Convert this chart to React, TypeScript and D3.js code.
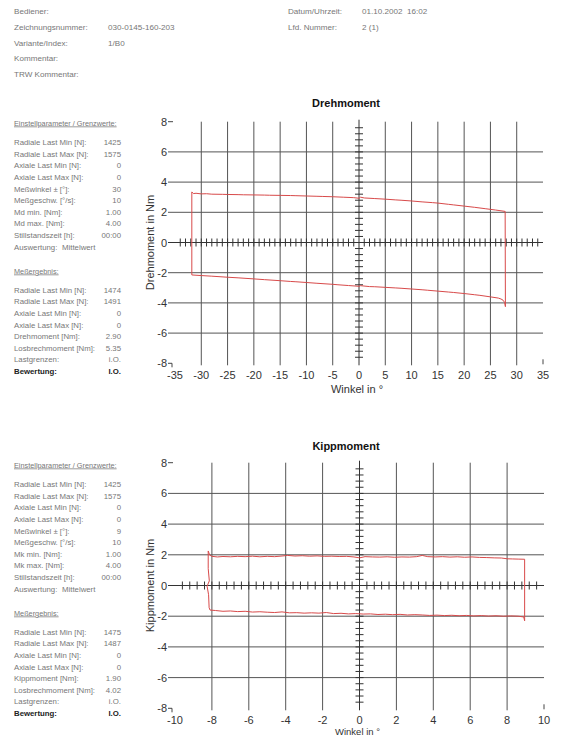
import React from "react";
import * as d3 from "d3";

// header block
const headerLeft = [
  ["Bediener:", ""],
  ["Zeichnungsnummer:", "030-0145-160-203"],
  ["Variante/Index:", "1/B0"],
  ["Kommentar:", ""],
  ["TRW Kommentar:", ""],
];
const headerRight = [
  ["Datum/Uhrzeit:", "01.10.2002  16:02"],
  ["Lfd. Nummer:", "2 (1)"],
];

// left parameter panels
const drehSettings = [
  ["Radiale Last Min [N]:", "1425"],
  ["Radiale Last Max [N]:", "1575"],
  ["Axiale Last Min [N]:", "0"],
  ["Axiale Last Max [N]:", "0"],
  ["Meßwinkel ± [°]:", "30"],
  ["Meßgeschw. [°/s]:", "10"],
  ["Md min. [Nm]:", "1.00"],
  ["Md max. [Nm]:", "4.00"],
  ["Stillstandszeit [h]:", "00:00"],
];
const drehResults = [
  ["Radiale Last Min [N]:", "1474"],
  ["Radiale Last Max [N]:", "1491"],
  ["Axiale Last Min [N]:", "0"],
  ["Axiale Last Max [N]:", "0"],
  ["Drehmoment [Nm]:", "2.90"],
  ["Losbrechmoment [Nm]:", "5.35"],
  ["Lastgrenzen:", "i.O."],
  ["Bewertung:", "I.O."],
];
const kippSettings = [
  ["Radiale Last Min [N]:", "1425"],
  ["Radiale Last Max [N]:", "1575"],
  ["Axiale Last Min [N]:", "0"],
  ["Axiale Last Max [N]:", "0"],
  ["Meßwinkel ± [°]:", "9"],
  ["Meßgeschw. [°/s]:", "10"],
  ["Mk min. [Nm]:", "1.00"],
  ["Mk max. [Nm]:", "4.00"],
  ["Stillstandszeit [h]:", "00:00"],
];
const kippResults = [
  ["Radiale Last Min [N]:", "1475"],
  ["Radiale Last Max [N]:", "1487"],
  ["Axiale Last Min [N]:", "0"],
  ["Axiale Last Max [N]:", "0"],
  ["Kippmoment [Nm]:", "1.90"],
  ["Losbrechmoment [Nm]:", "4.02"],
  ["Lastgrenzen:", "i.O."],
  ["Bewertung:", "I.O."],
];

// tick labels
const yTicks = [-8, -6, -4, -2, 0, 2, 4, 6, 8];
const drehXTicks = [-35, -30, -25, -20, -15, -10, -5, 0, 5, 10, 15, 20, 25, 30, 35];
const kippXTicks = [-10, -8, -6, -4, -2, 0, 2, 4, 6, 8, 10];

// measured curves [winkel, moment]
const drehUpper = [
  [-31.8, 3.35], [-31.5, 3.24], [-31, 3.26], [-30, 3.22], [-29, 3.23], [-28, 3.2], [-26, 3.19],
  [-25, 3.18], [-23, 3.17], [-22, 3.16], [-20, 3.15], [-18, 3.14], [-17, 3.13], [-15, 3.12],
  [-13, 3.11], [-12, 3.1], [-10, 3.08], [-8, 3.06], [-7, 3.05], [-5, 3.03], [-3, 3.0],
  [-1, 2.97], [0, 2.93], [0.3, 3.0], [1, 2.95], [3, 2.91], [5, 2.87], [7, 2.82], [8, 2.8],
  [10, 2.75], [12, 2.69], [14, 2.64], [15, 2.61], [17, 2.53], [18, 2.49], [20, 2.41],
  [22, 2.33], [24, 2.24], [26, 2.15], [27.8, 2.06],
];
const drehLower = [
  [27.85, -4.25], [27.7, -3.97], [27.4, -3.82], [27, -3.74], [26.5, -3.68], [25, -3.6],
  [23, -3.5], [22, -3.46], [20, -3.38], [18, -3.31], [17, -3.28], [15, -3.22], [13, -3.16],
  [12, -3.13], [10, -3.08], [8, -3.03], [7, -3.01], [5, -2.97], [3, -2.93], [2, -2.92],
  [0.3, -2.86], [0, -2.9], [-2, -2.85], [-4, -2.8], [-5, -2.77], [-8, -2.7], [-10, -2.65],
  [-12, -2.6], [-13, -2.58], [-15, -2.53], [-18, -2.46], [-20, -2.41], [-23, -2.34],
  [-25, -2.3], [-28, -2.23], [-30, -2.19], [-31.8, -2.15], [-31.8, 3.35],
];
const kippUpper = [
  [-8.2, 2.25], [-8.12, 1.98], [-8, 1.9], [-7.7, 1.86], [-7.4, 1.89], [-7, 1.87], [-6.6, 1.9],
  [-6.2, 1.88], [-5.8, 1.91], [-5.4, 1.87], [-5, 1.9], [-4.6, 1.88], [-4.2, 1.92], [-3.9, 1.96],
  [-3.5, 1.92], [-3.1, 1.94], [-2.7, 1.91], [-2.3, 1.93], [-1.9, 1.9], [-1.5, 1.91], [-1.1, 1.89],
  [-0.7, 1.9], [-0.3, 1.86], [0, 1.8], [0.3, 1.88], [0.7, 1.86], [1.1, 1.85], [1.5, 1.87],
  [1.9, 1.84], [2.3, 1.86], [2.7, 1.85], [3.1, 1.88], [3.4, 1.96], [3.7, 1.88], [4.1, 1.86],
  [4.5, 1.88], [4.9, 1.85], [5.3, 1.87], [5.7, 1.84], [6.1, 1.86], [6.5, 1.83], [6.9, 1.82],
  [7.3, 1.8], [7.7, 1.79], [8, 1.74], [8.3, 1.73], [8.6, 1.72], [8.95, 1.71],
];
const kippLower = [
  [8.95, -2.3], [8.9, -2.05], [8.6, -2.0], [8.2, -1.98], [7.8, -2.0], [7.4, -1.97], [7, -1.99],
  [6.6, -1.96], [6.2, -1.98], [5.8, -1.95], [5.4, -1.97], [5, -1.94], [4.6, -1.96], [4.2, -1.93],
  [3.8, -1.95], [3.4, -1.92], [3, -1.9], [2.6, -1.92], [2.2, -1.88], [1.8, -1.9], [1.4, -1.87],
  [1, -1.89], [0.6, -1.85], [0.2, -1.86], [-0.2, -1.83], [-0.6, -1.85], [-1, -1.81], [-1.4, -1.83],
  [-1.8, -1.76], [-2.2, -1.8], [-2.6, -1.78], [-3, -1.8], [-3.4, -1.77], [-3.8, -1.78],
  [-4.2, -1.72], [-4.6, -1.76], [-5, -1.74], [-5.4, -1.71], [-5.8, -1.73], [-6.2, -1.68],
  [-6.6, -1.7], [-7, -1.66], [-7.4, -1.68], [-7.8, -1.63], [-8.1, -1.6], [-8.15, -1.45],
  [-8.18, -0.6], [-8.26, -0.05], [-8.14, 0.3], [-8.2, 1.1], [-8.2, 2.25],
];

const FONT = "Arial, 'Liberation Sans', sans-serif";
const GREY = "#777";

type Row = string[];

const Panel = ({ top, settings, results }: { top: number; settings: Row[]; results: Row[] }) => {
  const step = 11.6;
  const resTop = top + 167;
  return (
    <g fontFamily={FONT} fontSize={7.8} fill={GREY}>
      <text x={14} y={top + 2.5} fontSize={7.3} textDecoration="underline">Einstellparameter / Grenzwerte:</text>
      {settings.map((r, i) => (
        <g key={"s" + i}>
          <text x={14} y={top + 19.5 + i * step + 2.7}>{r[0]}</text>
          <text x={121} y={top + 19.5 + i * step + 2.7} textAnchor="end">{r[1]}</text>
        </g>
      ))}
      <text x={14} y={top + 19.5 + 9 * step + 2.7}>Auswertung:</text>
      <text x={62} y={top + 19.5 + 9 * step + 2.7}>Mittelwert</text>
      <text x={14} y={top + 148 + 2.5} fontSize={7.3} textDecoration="underline">Meßergebnis:</text>
      {results.map((r, i) => {
        const bold = r[0] === "Bewertung:";
        return (
          <g key={"r" + i} fontWeight={bold ? "bold" : "normal"} fill={bold ? "#222" : GREY}>
            <text x={14} y={resTop + i * step + 2.7}>{r[0]}</text>
            <text x={121} y={resTop + i * step + 2.7} textAnchor="end">{r[1]}</text>
          </g>
        );
      })}
    </g>
  );
};

const Chart = ({
  title, yLabel, xTicks, xDomain, xRange, yRange, minorX, upper, lower, titleY,
}: {
  title: string; yLabel: string; xTicks: number[]; xDomain: [number, number]; xRange: [number, number];
  yRange: [number, number]; minorX: number; upper: number[][]; lower: number[][]; titleY: number;
}) => {
  const x = d3.scaleLinear().domain(xDomain).range(xRange);
  const y = d3.scaleLinear().domain([-8, 8]).range(yRange);
  const left = 168;
  const right = xRange[1];
  const gridX = xTicks.slice(1, -1).filter((t) => t !== 0);
  const gridY = yTicks.filter((t) => t !== 0 && Math.abs(t) !== 8);
  const nX = Math.round((xDomain[1] - xDomain[0]) / minorX);
  const minorXs = d3.range(1, nX).map((i) => xDomain[0] + i * minorX).filter((v) => Math.abs(v) > 1e-6);
  const minorYs = d3.range(1, 40).map((i) => -8 + i * 0.4).filter((v) => Math.abs(v) > 1e-6);
  const line = d3.line<number[]>().x((d) => x(d[0])).y((d) => y(d[1]));
  const loop = upper.concat(lower);
  const cx = (xRange[0] + xRange[1]) / 2;
  const xLabelY = y(-8) + 29.5;
  const clipped = xLabelY > 734;
  return (
    <g fontFamily={FONT}>
      <text x={346} y={titleY + 4} textAnchor="middle" fontSize={11} fontWeight="bold" fill="#111">{title}</text>
      {gridY.map((t) => (
        <line key={"gy" + t} x1={left} x2={right} y1={y(t)} y2={y(t)} stroke="#555" strokeWidth={1} />
      ))}
      {gridX.map((t) => (
        <line key={"gx" + t} x1={x(t)} x2={x(t)} y1={y(8)} y2={y(-8) + 2} stroke="#555" strokeWidth={1} />
      ))}
      {/* center axes with minor ticks */}
      <line x1={left} x2={right} y1={y(0)} y2={y(0)} stroke="#333" />
      <line x1={x(0)} x2={x(0)} y1={y(8) - 2} y2={y(-8) + 2} stroke="#333" />
      {minorXs.map((v, i) => (
        <line key={"mx" + i} x1={x(v)} x2={x(v)} y1={y(0) - 4} y2={y(0) + 4} stroke="#333" />
      ))}
      {minorYs.map((v, i) => (
        <line key={"my" + i} x1={x(0) - 4} x2={x(0) + 4} y1={y(v)} y2={y(v)} stroke="#333" />
      ))}
      {/* frame end ticks */}
      <line x1={left} x2={left + 5} y1={y(8)} y2={y(8)} stroke="#444" />
      <path d={`M${left},${y(-8)}H${left + 4}V${y(-8) + 4}`} fill="none" stroke="#444" />
      <line x1={x(xDomain[1])} x2={x(xDomain[1])} y1={y(-8) - 4} y2={y(-8) + 1} stroke="#444" />
      {yTicks.map((t) => (
        <text key={"yl" + t} x={left - 1} y={y(t) + 4} textAnchor="end" fontSize={11} fill="#333">{t}</text>
      ))}
      {xTicks.map((t) => (
        <text key={"xl" + t} x={x(t)} y={y(-8) + 15.5} textAnchor="middle" fontSize={11} fill="#333">{t}</text>
      ))}
      <text x={cx - 2} y={clipped ? 734.5 : xLabelY} textAnchor="middle" fontSize={clipped ? 9.5 : 11} fill="#333">Winkel in °</text>
      <text transform={`translate(${154},${y(0)}) rotate(-90)`} textAnchor="middle" fontSize={11} fill="#333">{yLabel}</text>
      <path d={line(loop) ?? ""} fill="none" stroke="#d84a4a" strokeWidth={1} />
    </g>
  );
};

export default function App() {
  return (
    <svg width={563} height={735} style={{ position: "absolute", left: 0, top: 0, background: "#fff" }}>
      <rect width={563} height={735} fill="#fff" />
      <g fontFamily={FONT} fontSize={8.1} fill={GREY}>
        {headerLeft.map((r, i) => (
          <g key={"hl" + i}>
            <text x={14} y={11 + i * 15.8 + 3}>{r[0]}</text>
            <text x={108} y={11 + i * 15.8 + 3}>{r[1]}</text>
          </g>
        ))}
        {headerRight.map((r, i) => (
          <g key={"hr" + i}>
            <text x={288} y={11 + i * 15.5 + 3}>{r[0]}</text>
            <text x={362} y={11 + i * 15.5 + 3} style={{ whiteSpace: "pre" }}>{r[1]}</text>
          </g>
        ))}
      </g>
      <Panel top={123} settings={drehSettings} results={drehResults} />
      <Panel top={465} settings={kippSettings} results={kippResults} />
      <Chart
        title="Drehmoment" yLabel="Drehmoment in Nm" xTicks={drehXTicks} xDomain={[-35, 35]}
        xRange={[175, 543]} yRange={[363.3, 121.7]} minorX={1} upper={drehUpper} lower={drehLower} titleY={103.3}
      />
      <Chart
        title="Kippmoment" yLabel="Kippmoment in Nm" xTicks={kippXTicks} xDomain={[-10, 10]}
        xRange={[175, 544]} yRange={[708.3, 462.7]} minorX={0.4} upper={kippUpper} lower={kippLower} titleY={445.5}
      />
    </svg>
  );
}
